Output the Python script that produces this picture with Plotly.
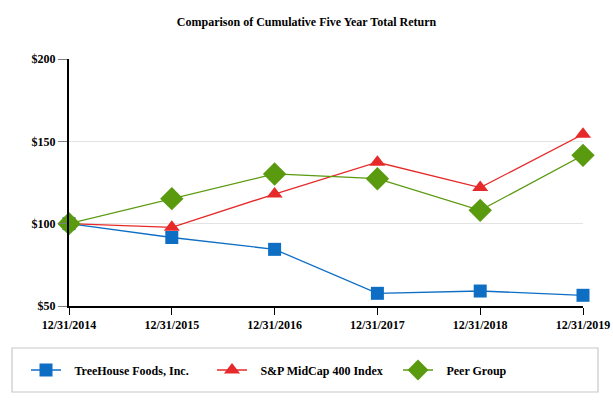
import plotly.graph_objects as go

years = ["12/31/2014", "12/31/2015", "12/31/2016", "12/31/2017", "12/31/2018", "12/31/2019"]
treehouse = [100.0, 91.6, 84.4, 57.7, 59.1, 56.5]
sp400 = [100.0, 97.8, 118.0, 137.3, 121.9, 154.3]
peer = [100.0, 115.2, 130.2, 127.3, 108.1, 141.5]
series_names = ["TreeHouse Foods, Inc.", "S&P MidCap 400 Index", "Peer Group"]

BLUE = "#0E6EC4"
RED = "#E62A2A"
GREEN = "#5A9A0E"
FONT = "Liberation Serif"

W, H = 613, 405
GAP = "\u2002\u2009"

x_idx = list(range(len(years)))

fig = go.Figure()
fig.add_trace(go.Scatter(x=x_idx, y=treehouse, name=GAP + "<b>%s</b>" % series_names[0], mode="lines+markers",
                         line=dict(color=BLUE, width=1.3),
                         marker=dict(symbol="square", size=13, color=BLUE), cliponaxis=False))
fig.add_trace(go.Scatter(x=x_idx, y=sp400, name=GAP + "<b>%s</b>" % series_names[1], mode="lines+markers",
                         line=dict(color=RED, width=1.3),
                         marker=dict(symbol="triangle-up", size=14, color=RED), cliponaxis=False))
fig.add_trace(go.Scatter(x=x_idx, y=peer, name=GAP + "<b>%s</b>" % series_names[2], mode="lines+markers",
                         line=dict(color=GREEN, width=1.3),
                         marker=dict(symbol="diamond", size=18, color=GREEN), cliponaxis=False))

PL, PR, PT, PB = 69, 583, 59, 306
PW, PH = PR - PL, PB - PT

fig.update_layout(
    width=W, height=H,
    margin=dict(l=PL, r=W - PR, t=PT, b=H - PB, autoexpand=False),
    paper_bgcolor="white", plot_bgcolor="white",
    font=dict(family=FONT, size=12, color="black"),
    title=dict(text="<b>Comparison of Cumulative Five Year Total Return</b>",
               x=0.5, xanchor="center", xref="container", y=1 - 22 / H, yanchor="middle", yref="container",
               font=dict(family=FONT, size=12, color="black")),
    showlegend=True,
    legend=dict(orientation="h", xref="paper", yref="paper",
                x=(26 - PL) / PW, xanchor="left",
                y=(PB - 370) / PH, yanchor="middle",
                entrywidth=141, entrywidthmode="pixels",
                font=dict(family=FONT, size=12, color="black"),
                bgcolor="rgba(0,0,0,0)", borderwidth=0, itemclick=False),
    shapes=[dict(type="rect", xref="paper", yref="paper",
                 x0=(12 - PL) / PW, x1=(598 - PL) / PW,
                 y0=(PB - 348) / PH, y1=(PB - 392) / PH,
                 line=dict(color="#C8C8C8", width=1.2), fillcolor="rgba(0,0,0,0)", layer="below")],
)

fig.update_xaxes(
    range=[0, len(years) - 1], tickmode="array", tickvals=x_idx,
    ticktext=["<b>%s</b>" % y for y in years],
    showgrid=False, zeroline=False,
    showline=True, linecolor="black", linewidth=1.5,
    ticks="outside", ticklen=7, tickcolor="black", tickwidth=1.2,
    tickfont=dict(family=FONT, size=12, color="black"),
)
fig.update_yaxes(
    range=[50, 200], tickmode="array", tickvals=[50, 100, 150, 200],
    ticktext=["<b>$50</b>", "<b>$100</b>", "<b>$150</b>", "<b>$200</b>"],
    showgrid=True, gridcolor="#E3E3E3", gridwidth=1, zeroline=False,
    showline=True, linecolor="black", linewidth=2,
    ticks="outside", ticklen=9, tickcolor="#808080", tickwidth=1,
    tickfont=dict(family=FONT, size=12, color="black"),
)

fig.write_html("out.html", config={"displayModeBar": False},
               post_script="document.body.style.margin='0';document.body.style.overflow='hidden';")
